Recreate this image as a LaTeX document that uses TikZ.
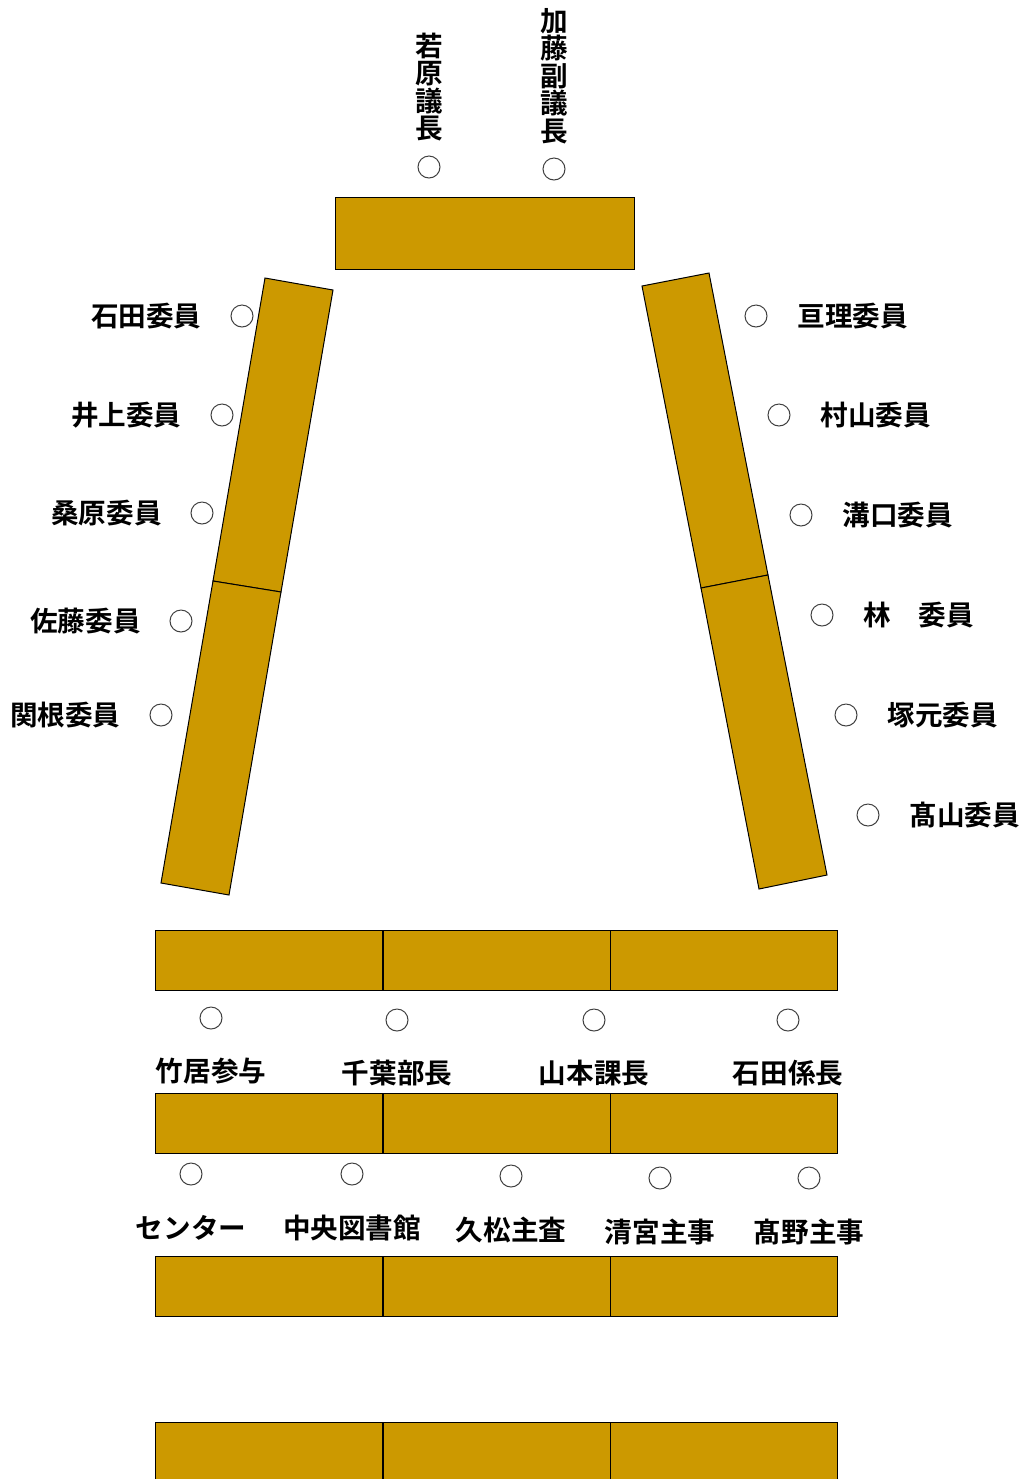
\documentclass[tikz,border=0pt]{standalone}
\usepackage{fontspec}
\newfontfamily\jp{Noto Sans CJK JP}[BoldFont={Noto Sans CJK JP Bold}]

\begin{document}
\begin{tikzpicture}[x=0.5pt, y=-0.5pt]
    \tikzstyle{desk} = [draw, fill=deskc, line width=0.5pt]
    \tikzstyle{seat} = [draw=black!75, circle, inner sep=0pt, minimum size=11pt, line width=0.5pt]
    \tikzstyle{nm}   = [font=\jp\bfseries\fontsize{13.8}{13.7}\selectfont, inner sep=0pt]

    \definecolor{deskc}{rgb}{0.800,0.600,0.000}

    \useasboundingbox (0,0) rectangle (1022,1479);

    % Chair desk and the two chairs
    \draw[desk] (335,197) rectangle (634,269);
    \node[seat] (chair1) at (429,167) {};
    \node[seat] (chair2) at (554,169) {};
    \node[nm, align=center] (chairname1) at (429,87) {若\\原\\議\\長};
    \node[nm, align=center] (chairname2) at (554,76) {加\\藤\\副\\議\\長};

    % Tilted desks, left and right
    \draw[desk] (265,278) -- (333,290) -- (281,592) -- (213,581) -- cycle;
    \draw[desk] (213,581) -- (281,592) -- (229,895) -- (161,883) -- cycle;
    \draw[desk] (642,286) -- (709,273) -- (768,575) -- (701,588) -- cycle;
    \draw[desk] (701,588) -- (768,575) -- (827,875) -- (759,889) -- cycle;

    % Members on the left
    \foreach \x/\y/\who [count=\i] in {
            242/316/石田委員,
            222/415/井上委員,
            202/513/桑原委員,
            181/621/佐藤委員,
            161/715/関根委員
    } {
        \node[seat] (lseat\i) at (\x,\y) {};
        \node[nm, anchor=east] (lname\i) at (\x-40,\y) {\who};
    }

    % Members on the right
    \foreach \x/\y/\who [count=\i] in {
            756/316/亘理委員,
            779/415/村山委員,
            801/515/溝口委員,
            822/615/林　委員,
            846/715/塚元委員,
            868/815/髙山委員
    } {
        \node[seat] (rseat\i) at (\x,\y) {};
        \node[nm, anchor=west] (rname\i) at (\x+41,\y) {\who};
    }

    % Rows of desks at the bottom
    \foreach \y in {930,1093,1256,1422}
        \foreach \x in {155,383,610}
            \draw[desk] (\x,\y) rectangle ++(227,60);

    % First row of staff
    \foreach \x/\y/\who [count=\i] in {
            211/1018/竹居参与,
            397/1020/千葉部長,
            594/1020/山本課長,
            788/1020/石田係長
    } {
        \node[seat] (aseat\i) at (\x,\y) {};
        \node[nm] (aname\i) at (\x,\y+53) {\who};
    }

    % Second row of staff
    \foreach \x/\y/\who [count=\i] in {
            191/1174/センター,
            352/1174/中央図書館,
            511/1176/久松主査,
            660/1178/清宮主事,
            809/1178/髙野主事
    } {
        \node[seat] (bseat\i) at (\x,\y) {};
        \node[nm] (bname\i) at (\x,\y+54) {\who};
    }

\end{tikzpicture}
\end{document}
